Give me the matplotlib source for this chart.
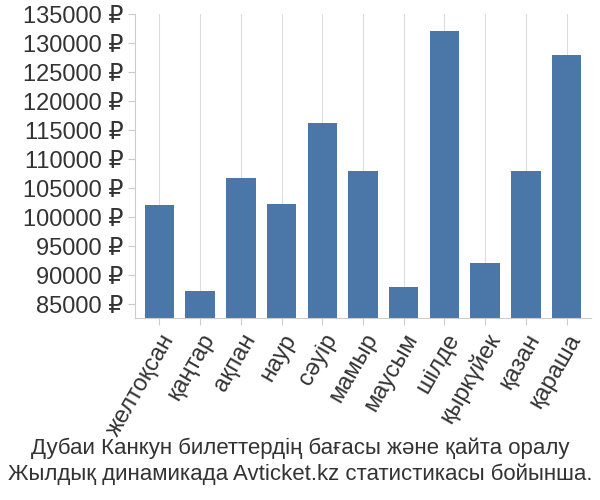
import matplotlib
matplotlib.use("Agg")
import matplotlib.pyplot as plt

months = ["желтоқсан","қаңтар","ақпан","наур","сәуір","мамыр","маусым","шілде","қыркүйек","қазан","қараша"]
prices = [102100, 87300, 106800, 102200, 116200, 108000, 87900, 132000, 92100, 107900, 128000]
yticks = list(range(85000, 135001, 5000))

plt.rcParams['font.family'] = ['Liberation Sans', 'DejaVu Sans']
fig = plt.figure(figsize=(6, 5), dpi=100)
ax = fig.add_axes([0.225, 0.364, 0.76, 0.608])
base = 82600
ax.bar(range(len(months)), [p - base for p in prices], bottom=base, width=0.72, color="#4a76a8", zorder=2)
ax.set_ylim(base, 135000)
ax.set_xlim(-0.6, len(months) - 0.4)
ax.set_yticks(yticks)
ax.set_yticklabels([f"{v} ₽" for v in yticks], fontsize=17, color="#333333")
ax.set_xticks(range(len(months)))
ax.set_xticklabels(months, rotation=60, ha="right", rotation_mode="anchor", fontsize=17, color="#333333")
ax.grid(axis="x", color="#dddddd", zorder=0)
for s in ["top", "right"]:
    ax.spines[s].set_visible(False)
ax.spines["left"].set_color("#cccccc")
ax.spines["bottom"].set_color("#cccccc")
ax.tick_params(length=5, color="#cccccc")
fig.text(0.5, 0.078, "Дубаи Канкун билеттердің бағасы және қайта оралу\nЖылдық динамикада Avticket.kz статистикасы бойынша.",
         ha="center", va="center", fontsize=16, color="#333333", linespacing=1.3)
fig.savefig("out.png")
